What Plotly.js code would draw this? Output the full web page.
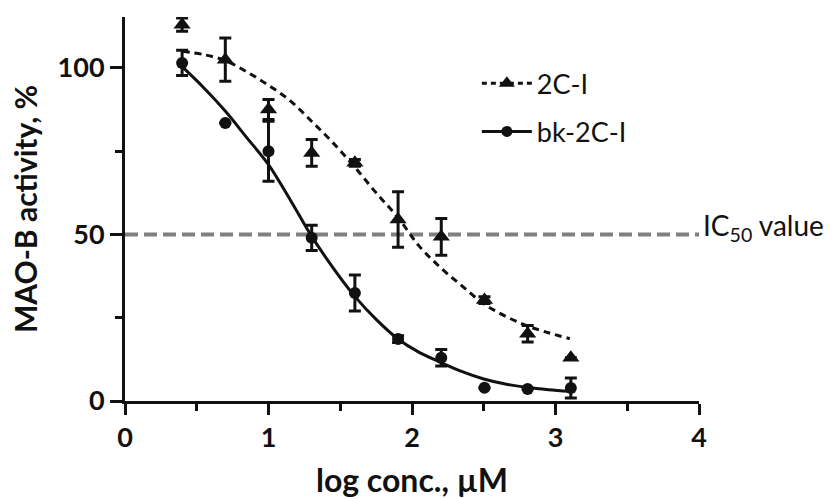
<!DOCTYPE html>
<html>
<head>
<meta charset="utf-8">
<script src="https://cdn.plot.ly/plotly-3.0.1.min.js"></script>
<style>html,body{margin:0;padding:0;background:#fff;}#chart{width:837px;height:499px;}</style>
</head>
<body>
<div id="chart"></div>
<script>
// Measured points (log concentration, µM)
var logConc = [0.398, 0.699, 1.0, 1.301, 1.602, 1.903, 2.204, 2.505, 2.806, 3.107];
var act2CI = [113, 102.5, 87.5, 74.5, 71.5, 54.5, 49.3, 30.3, 20.2, 13];
var err2CI = [2, 6.5, 3, 4, 1, 8.3, 5.5, 1, 2.5, 0];
var actBk = [101.5, 83.5, 75, 49, 32.4, 18.6, 13, 4, 3.6, 3.9];
var errBk = [3.8, 0, 9, 3.8, 5.4, 1, 2.5, 0, 0, 3];

// Fitted curves
var fitX = [0.4, 0.55, 0.7, 0.85, 1.0, 1.15, 1.3, 1.45, 1.6, 1.75, 1.9, 2.05, 2.2, 2.35, 2.5, 2.65, 2.8, 2.95, 3.1];
var fit2CI = [105, 104, 102.2, 98.8, 94.8, 90.2, 84, 77.5, 70.3, 62.5, 55.2, 46.5, 40, 34.5, 29.2, 25.5, 22.6, 20.5, 18.7];
var fitBk = [100.3, 94, 87, 79, 71, 60.5, 49.5, 40, 31.5, 24.5, 18.7, 14.6, 11.6, 8.8, 6.6, 5.1, 4.1, 3.4, 2.9];

var ic50Level = 50;
var xTicks = [0, 1, 2, 3, 4];
var yTicks = [0, 50, 100];
var seriesNames = ['2C-I', 'bk-2C-I'];

var ink = '#111111';
var fam = 'Lato, "Open Sans", sans-serif';

var traces = [
  {x: [0, 4], y: [ic50Level, ic50Level], mode: 'lines', showlegend: false, hoverinfo: 'skip',
   line: {color: '#808080', width: 4, dash: '13px,6px'}},
  {x: fitX, y: fit2CI, mode: 'lines', showlegend: false, line: {color: ink, width: 3, dash: '7px,5px', shape: 'spline'}},
  {x: fitX, y: fitBk, mode: 'lines', showlegend: false, line: {color: ink, width: 3, shape: 'spline'}},
  {x: logConc, y: act2CI, mode: 'markers', showlegend: false, cliponaxis: false,
   marker: {symbol: 'triangle-up', size: 15, color: ink},
   error_y: {type: 'data', array: err2CI, color: ink, thickness: 3, width: 6}},
  {x: logConc, y: actBk, mode: 'markers', showlegend: false, cliponaxis: false,
   marker: {symbol: 'circle', size: 12, color: ink},
   error_y: {type: 'data', array: errBk, color: ink, thickness: 3, width: 6}},
  {x: [null], y: [null], name: seriesNames[0], legendgroup: 'a', mode: 'lines+markers',
   line: {color: ink, width: 3, dash: '5px,4px'}, marker: {symbol: 'triangle-up', size: 14, color: ink}},
  {x: [null], y: [null], name: seriesNames[1], legendgroup: 'b', mode: 'lines+markers',
   line: {color: ink, width: 3}, marker: {symbol: 'circle', size: 11, color: ink}}
];

var layout = {
  width: 837, height: 499,
  margin: {l: 125, r: 138, t: 17, b: 98},
  paper_bgcolor: '#fff', plot_bgcolor: '#fff',
  font: {family: fam, color: ink},
  showlegend: true,
  legend: {x: 0.613, y: 0.89, xanchor: 'left', yanchor: 'top', traceorder: 'grouped', tracegroupgap: 10,
           font: {family: fam, size: 27, color: ink}, bgcolor: 'rgba(0,0,0,0)', itemwidth: 50},
  xaxis: {range: [0, 4], tickvals: xTicks, ticktext: xTicks.map(String), ticks: 'outside', ticklen: 11, tickwidth: 3,
          tickcolor: ink, showline: true, linewidth: 3, linecolor: ink, showgrid: false, zeroline: false,
          minor: {dtick: 0.5, ticks: 'outside', ticklen: 7, tickwidth: 3, tickcolor: ink, showgrid: false},
          tickfont: {family: fam, size: 27, color: ink, weight: 'bold'},
          title: {text: 'log conc., µM', font: {family: fam, size: 32, color: ink, weight: 'bold'}, standoff: 18}},
  yaxis: {range: [0, 115.3], tickvals: yTicks, ticktext: yTicks.map(String), ticks: 'outside', ticklen: 12, tickwidth: 3,
          tickcolor: ink, showline: true, linewidth: 3, linecolor: ink, showgrid: false, zeroline: false,
          minor: {dtick: 25, ticks: 'outside', ticklen: 7, tickwidth: 3, tickcolor: ink, showgrid: false},
          tickfont: {family: fam, size: 27, color: ink, weight: 'bold'},
          title: {text: 'MAO-B activity, %', font: {family: fam, size: 30, color: ink, weight: 'bold'}, standoff: 12}},
  annotations: [
    {x: 4, y: ic50Level, xref: 'x', yref: 'y', xanchor: 'left', yanchor: 'middle', yshift: 7, xshift: 2,
     text: 'IC<sub>50</sub> value', showarrow: false, font: {family: fam, size: 28, color: ink}}
  ]
};

Plotly.newPlot('chart', traces, layout, {staticPlot: true, displayModeBar: false});
</script>
</body>
</html>
